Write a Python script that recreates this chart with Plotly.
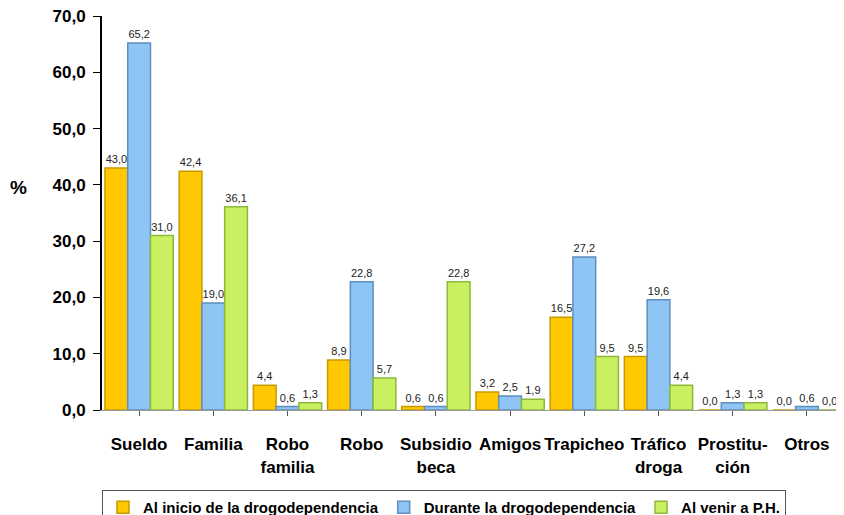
import plotly.graph_objects as go

categories = ["Sueldo", "Familia", "Robo<br>familia", "Robo", "Subsidio<br>beca", "Amigos",
              "Trapicheo", "Tráfico<br>droga", "Prostitu-<br>ción", "Otros"]
inicio = [43.0, 42.4, 4.4, 8.9, 0.6, 3.2, 16.5, 9.5, 0.0, 0.0]
durante = [65.2, 19.0, 0.6, 22.8, 0.6, 2.5, 27.2, 19.6, 1.3, 0.6]
venir = [31.0, 36.1, 1.3, 5.7, 22.8, 1.9, 9.5, 4.4, 1.3, 0.0]
series_names = ["Al inicio de la drogodependencia", "Durante la drogodependencia", "Al venir a P.H."]
y_ticks = [0, 10, 20, 30, 40, 50, 60, 70]

fills = ["#FFC800", "#8EC5F5", "#C8F060"]
edges = ["#C89A00", "#5E8FC0", "#8DB83A"]

fig = go.Figure()
for name, vals, fc, ec in zip(series_names, [inicio, durante, venir], fills, edges):
    fig.add_trace(go.Bar(
        x=categories, y=vals, name=name,
        marker=dict(color=fc, line=dict(color=ec, width=1.5)),
        texttemplate="%{y:.1f}", textposition="outside", cliponaxis=False,
        textfont=dict(family="Liberation Sans", size=11, color="#222"),
    ))

# page has an 8px body margin; figure is drawn at page (8, 8)
OFF = 8
L, T, B = 102 - OFF, 16 - OFF, 410 - OFF   # plot box edges in figure coords
FW, FH = 836, 507
PLOT_W, PLOT_H = FW - L, B - T


def px_x(page_x):
    return (page_x - OFF - L) / PLOT_W


def px_y(page_y):
    return (B - (page_y - OFF)) / PLOT_H


fig.update_layout(
    width=FW, height=FH,
    margin=dict(l=L, r=0, t=T, b=FH - B, autoexpand=False),
    paper_bgcolor="white", plot_bgcolor="white",
    barmode="group", bargap=0.08, bargroupgap=0.0,
    separators=",.",
    showlegend=True,
    legend=dict(orientation="h", x=px_x(444), xanchor="center",
                y=px_y(490), yanchor="top",
                bordercolor="#555", borderwidth=1, bgcolor="white",
                font=dict(family="Liberation Sans", size=15, color="black", weight="bold"),
                itemwidth=30, tracegroupgap=0),
    annotations=[dict(text="%", x=px_x(18), y=px_y(187),
                      xref="paper", yref="paper", xanchor="center", yanchor="middle",
                      showarrow=False,
                      font=dict(family="Liberation Sans", size=19, color="black", weight="bold"))],
)

fig.update_yaxes(range=[0, 70], tickvals=y_ticks, tickformat=".1f", automargin=False,
                 ticklabeloverflow="allow",
                 showgrid=False, showline=True, linecolor="black", linewidth=2,
                 ticks="outside", ticklen=7, tickcolor="black", ticklabelstandoff=4,
                 tickfont=dict(family="Liberation Sans", size=17, color="black", weight="bold"))
fig.update_xaxes(showgrid=False, showline=True, linecolor="#999", linewidth=1, automargin=False,
                 ticks="outside", ticklen=5, tickcolor="#555", ticklabelstandoff=14,
                 tickfont=dict(family="Liberation Sans", size=17, color="black", weight="bold"))

fig.write_html("out.html")
